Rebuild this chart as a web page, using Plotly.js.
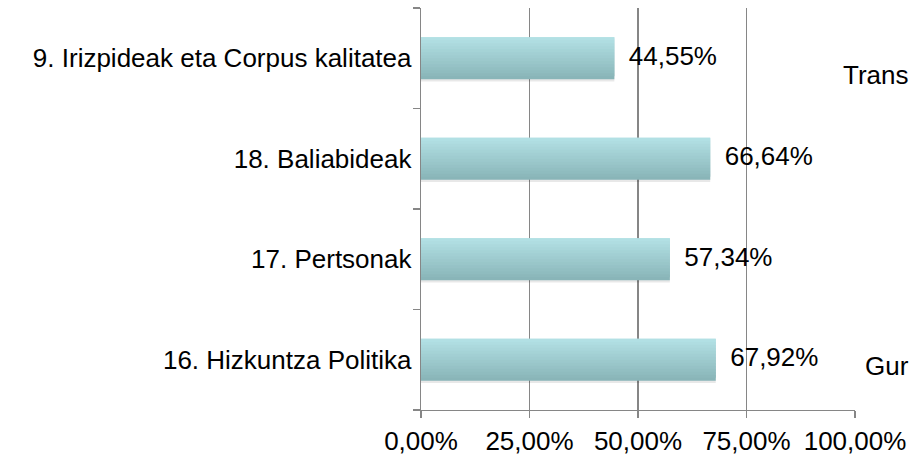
<!DOCTYPE html>
<html>
<head>
<meta charset="utf-8">
<script src="https://cdn.plot.ly/plotly-3.0.1.min.js"></script>
<style>
html,body{margin:0;padding:0;background:#fff;overflow:hidden;}
#chart{width:911px;height:456px;}
</style>
</head>
<body>
<div id="chart"></div>
<script>
// Data (bottom to top)
var categories = ["16. Hizkuntza Politika", "17. Pertsonak", "18. Baliabideak", "9. Irizpideak eta Corpus kalitatea"];
var values = [67.92, 57.34, 66.64, 44.55];
var tickValues = [0, 25, 50, 75, 100];
var tickLabels = ["0,00%", "25,00%", "50,00%", "75,00%", "100,00%"];
var sideLabels = ["Trans", "Gur"];

var FONT = "Liberation Sans, Arial, sans-serif";
var FS = 26;

// vertical gradient via overlapping stripes
var topC = [178, 224, 228], botC = [137, 181, 184];
var N = 14, barW = 0.42, sw = barW / N;
var traces = [];
// soft shadow
traces.push({
  type: "bar", orientation: "h", x: values, y: categories,
  width: barW, offset: -barW / 2 - 0.022,
  marker: {color: "rgba(0,0,0,0.09)", line: {width: 0}},
  hoverinfo: "skip", showlegend: false
});
for (var i = 0; i < N; i++) {
  var t = i / (N - 1); // 0 bottom -> 1 top
  var c = botC.map(function (b, k) { return Math.round(b + (topC[k] - b) * t); });
  traces.push({
    type: "bar", orientation: "h", x: values, y: categories,
    width: (i < N - 1) ? sw * 2 : sw, offset: -barW / 2 + i * sw,
    marker: {color: "rgb(" + c.join(",") + ")", line: {width: 0}},
    hoverinfo: "skip", showlegend: false
  });
}
traces.push({
  type: "scatter", mode: "text", x: values, y: categories,
  text: values.map(function (v) { return "  " + v.toFixed(2).replace(".", ",") + "%"; }),
  textposition: "middle right",
  textfont: {family: FONT, size: FS, color: "#000"},
  hoverinfo: "skip", showlegend: false, cliponaxis: false
});

var layout = {
  width: 911, height: 456,
  margin: {l: 421, r: 56, t: 8, b: 46, pad: 0},
  paper_bgcolor: "#fff", plot_bgcolor: "#fff",
  barmode: "overlay",
  separators: ",.",
  showlegend: false,
  font: {family: FONT, size: FS, color: "#000"},
  xaxis: {
    range: [0, 100], tickmode: "array", tickvals: tickValues, ticktext: tickLabels,
    showgrid: true, gridcolor: "#868686", gridwidth: 1.3,
    zeroline: false, showline: true, linecolor: "#868686", linewidth: 1.3,
    ticks: "outside", ticklen: 7, tickcolor: "#868686", tickwidth: 1.3,
    tickfont: {family: FONT, size: FS, color: "#000"}, fixedrange: true
  },
  yaxis: {
    type: "category", categoryorder: "array", categoryarray: categories,
    range: [-0.5, 3.5], autorange: false,
    showgrid: false, zeroline: false, showline: true, linecolor: "#868686", linewidth: 1.3,
    ticks: "outside", ticklen: 7, tickcolor: "#868686", tickwidth: 1.3, tickson: "boundaries",
    ticklabelstandoff: 3,
    tickfont: {family: FONT, size: FS, color: "#000"}, fixedrange: true
  },
  annotations: [
    {xref: "paper", yref: "paper", x: 1.127, y: 0.833, xanchor: "right", yanchor: "middle",
     text: sideLabels[0], showarrow: false, borderpad: 0, font: {family: FONT, size: FS, color: "#000"}},
    {xref: "paper", yref: "paper", x: 1.127, y: 0.109, xanchor: "right", yanchor: "middle",
     text: sideLabels[1], showarrow: false, borderpad: 0, font: {family: FONT, size: FS, color: "#000"}}
  ]
};

Plotly.newPlot("chart", traces, layout, {displayModeBar: false, staticPlot: true});
</script>
</body>
</html>
